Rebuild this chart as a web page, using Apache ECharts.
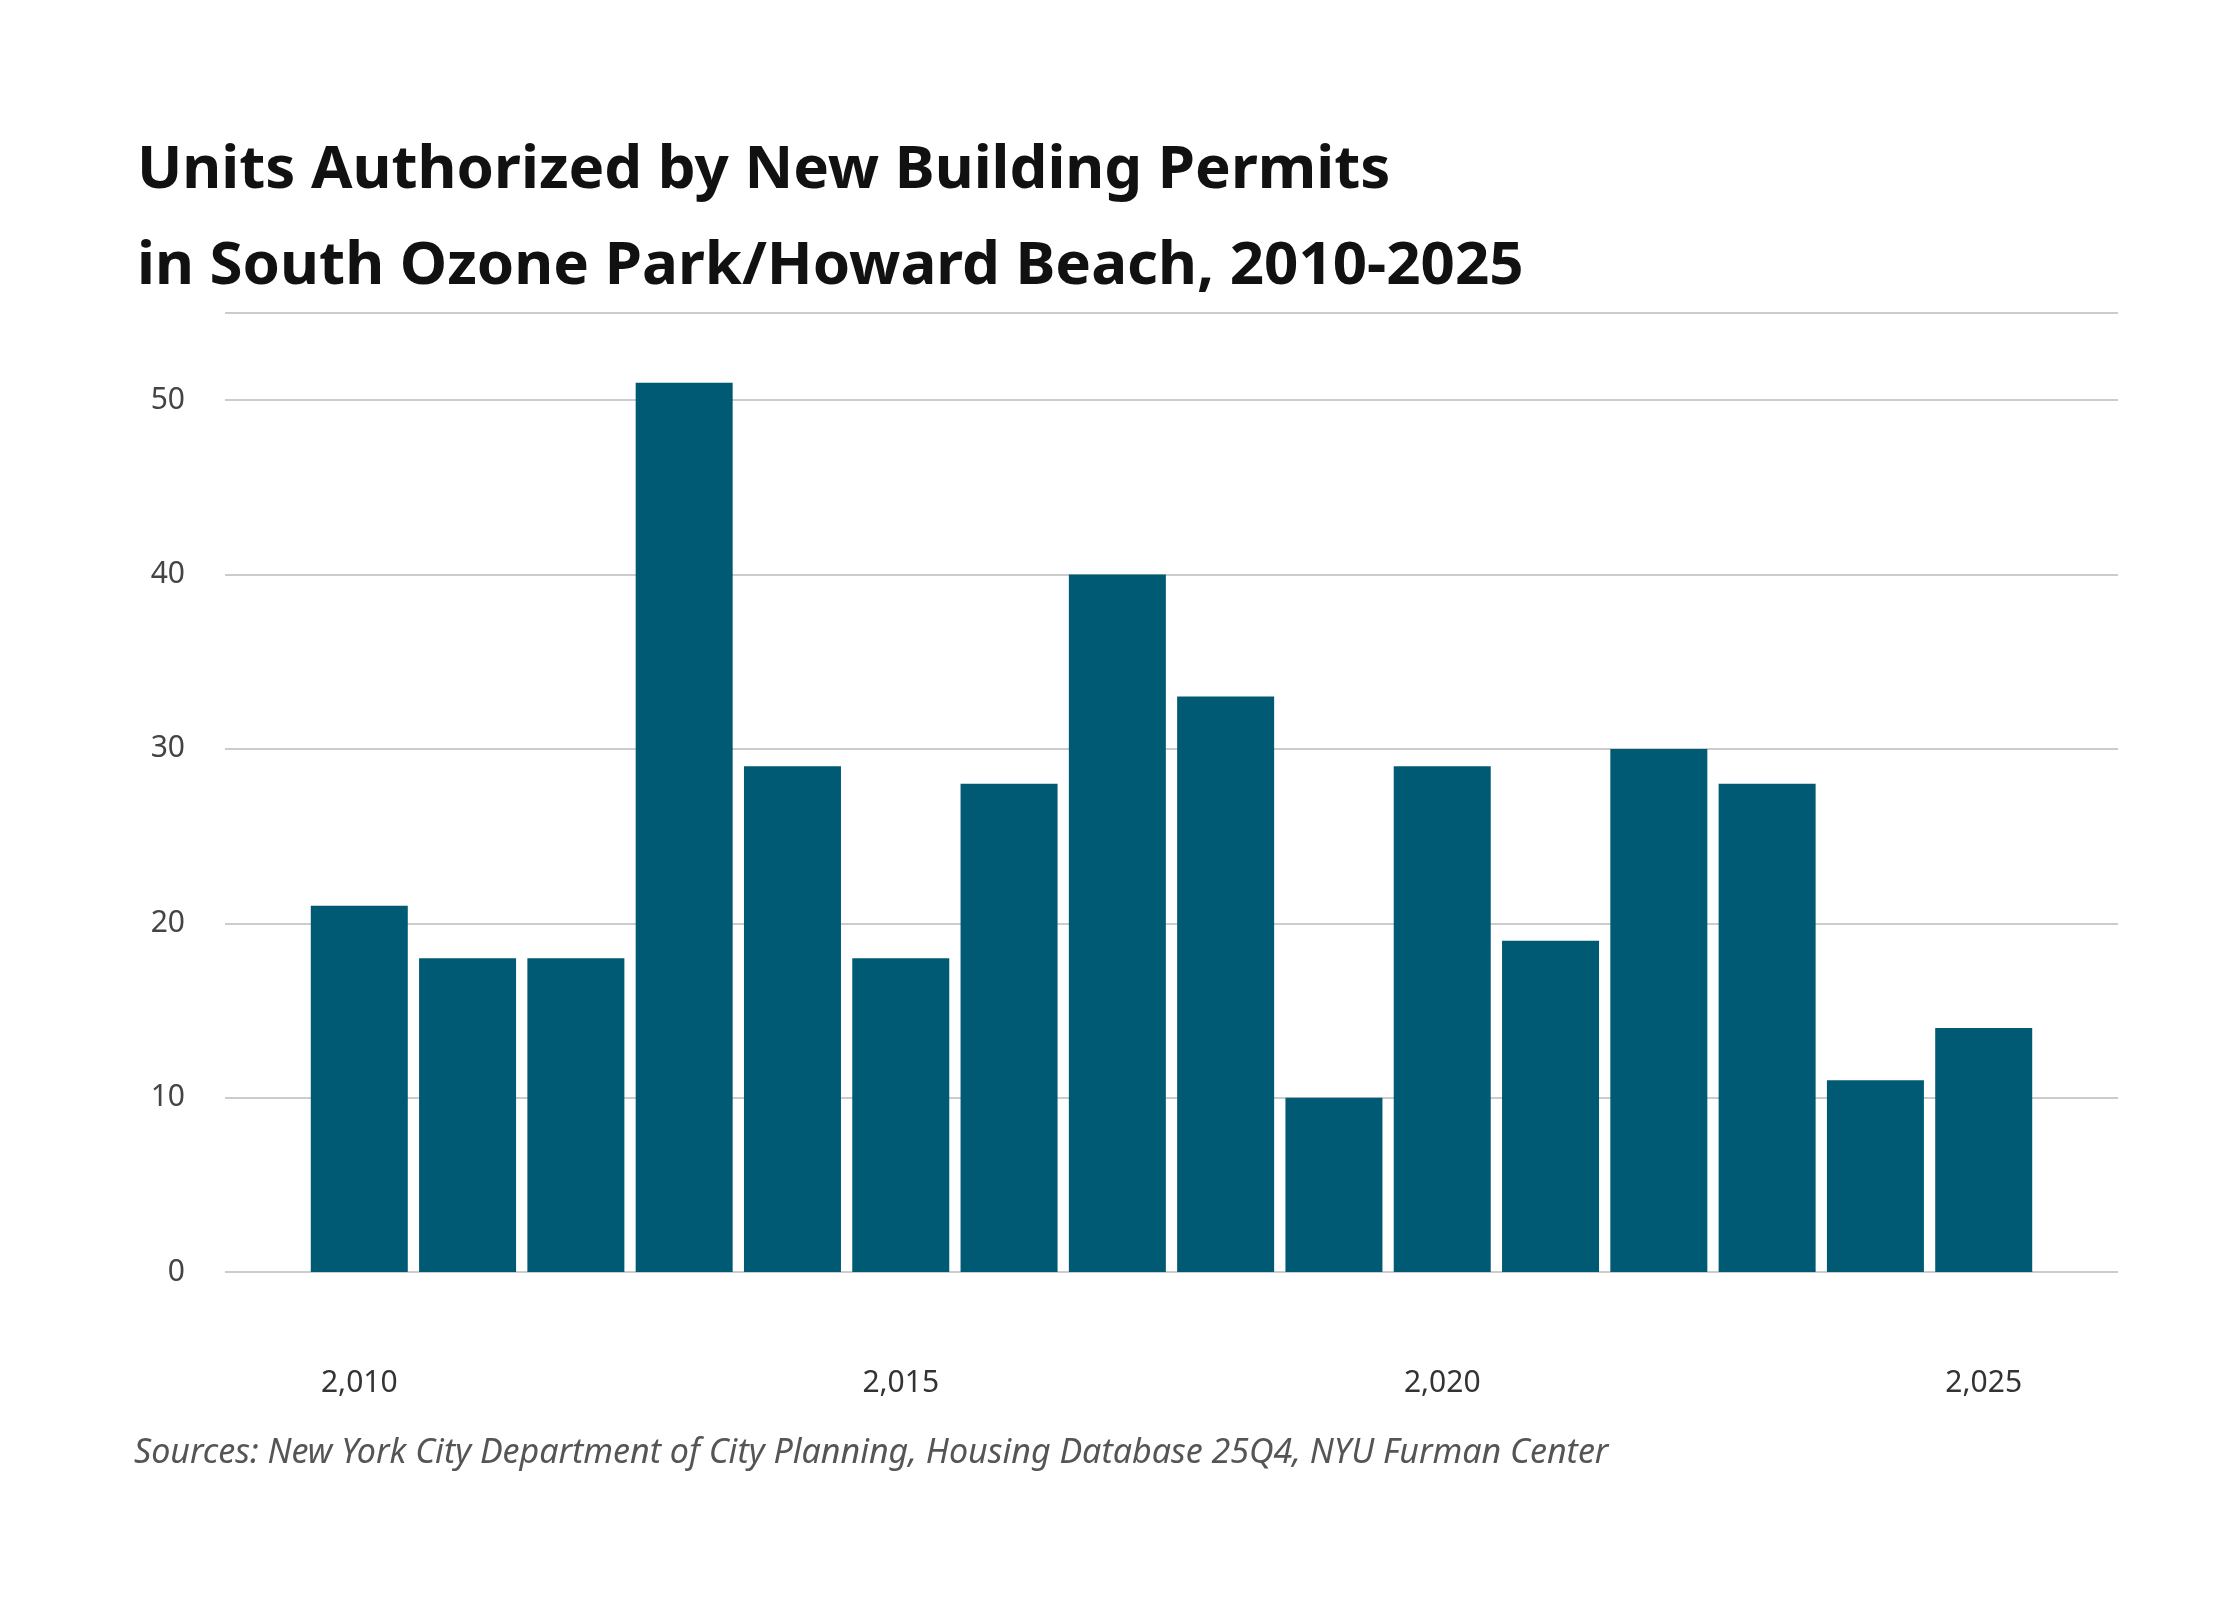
<!DOCTYPE html>
<html>
<head>
<meta charset="utf-8">
<script src="https://cdn.jsdelivr.net/npm/echarts@6/dist/echarts.min.js"></script>
<style>
  html, body { margin: 0; padding: 0; background: #fff; }
  #chart { width: 2240px; height: 1600px; }
</style>
</head>
<body>
<div id="chart"></div>
<script>
const years = [2010, 2011, 2012, 2013, 2014, 2015, 2016, 2017, 2018, 2019, 2020, 2021, 2022, 2023, 2024, 2025];
const units = [21, 18, 18, 51, 29, 18, 28, 40, 33, 10, 29, 19, 30, 28, 11, 14];
const yearLabels = [2010, 2015, 2020, 2025];

const chartDom = echarts.init(document.getElementById('chart'));
const option = {
  backgroundColor: '#fff',
  title: {
    text: 'Units Authorized by New Building Permits\nin South Ozone Park/Howard Beach, 2010-2025',
    left: 132,
    top: 118,
    textStyle: {
      fontFamily: 'Noto Sans',
      fontWeight: 'bold',
      fontSize: 60,
      lineHeight: 96,
      color: '#111'
    }
  },
  graphic: [{
    type: 'text',
    left: 134,
    top: 1436,
    style: {
      text: 'Sources: New York City Department of City Planning, Housing Database 25Q4, NYU Furman Center',
      font: 'italic 34px "Noto Sans"',
      fill: '#555'
    }
  }],
  grid: {
    left: 225,
    right: 122,
    top: 313,
    bottom: 328
  },
  xAxis: {
    type: 'value',
    min: 2008.76,
    max: 2026.24,
    splitLine: { show: false },
    axisLine: { show: false },
    axisTick: { show: false },
    axisLabel: {
      customValues: yearLabels,
      margin: 96,
      color: '#333',
      fontFamily: 'Noto Sans',
      fontSize: 30
    }
  },
  yAxis: {
    type: 'value',
    min: 0,
    max: 55,
    interval: 10,
    axisLine: { show: false },
    axisTick: { show: false },
    splitLine: { lineStyle: { color: '#cccccc', width: 2 } },
    axisLabel: {
      customValues: [0, 10, 20, 30, 40, 50],
      margin: 40,
      color: '#444',
      fontFamily: 'Noto Sans',
      fontSize: 30
    }
  },
  series: [{
    type: 'bar',
    data: years.map((y, i) => [y, units[i]]),
    barWidth: 97,
    itemStyle: { color: '#005a74' },
    silent: true
  }]
};
chartDom.setOption(option);
</script>
</body>
</html>
